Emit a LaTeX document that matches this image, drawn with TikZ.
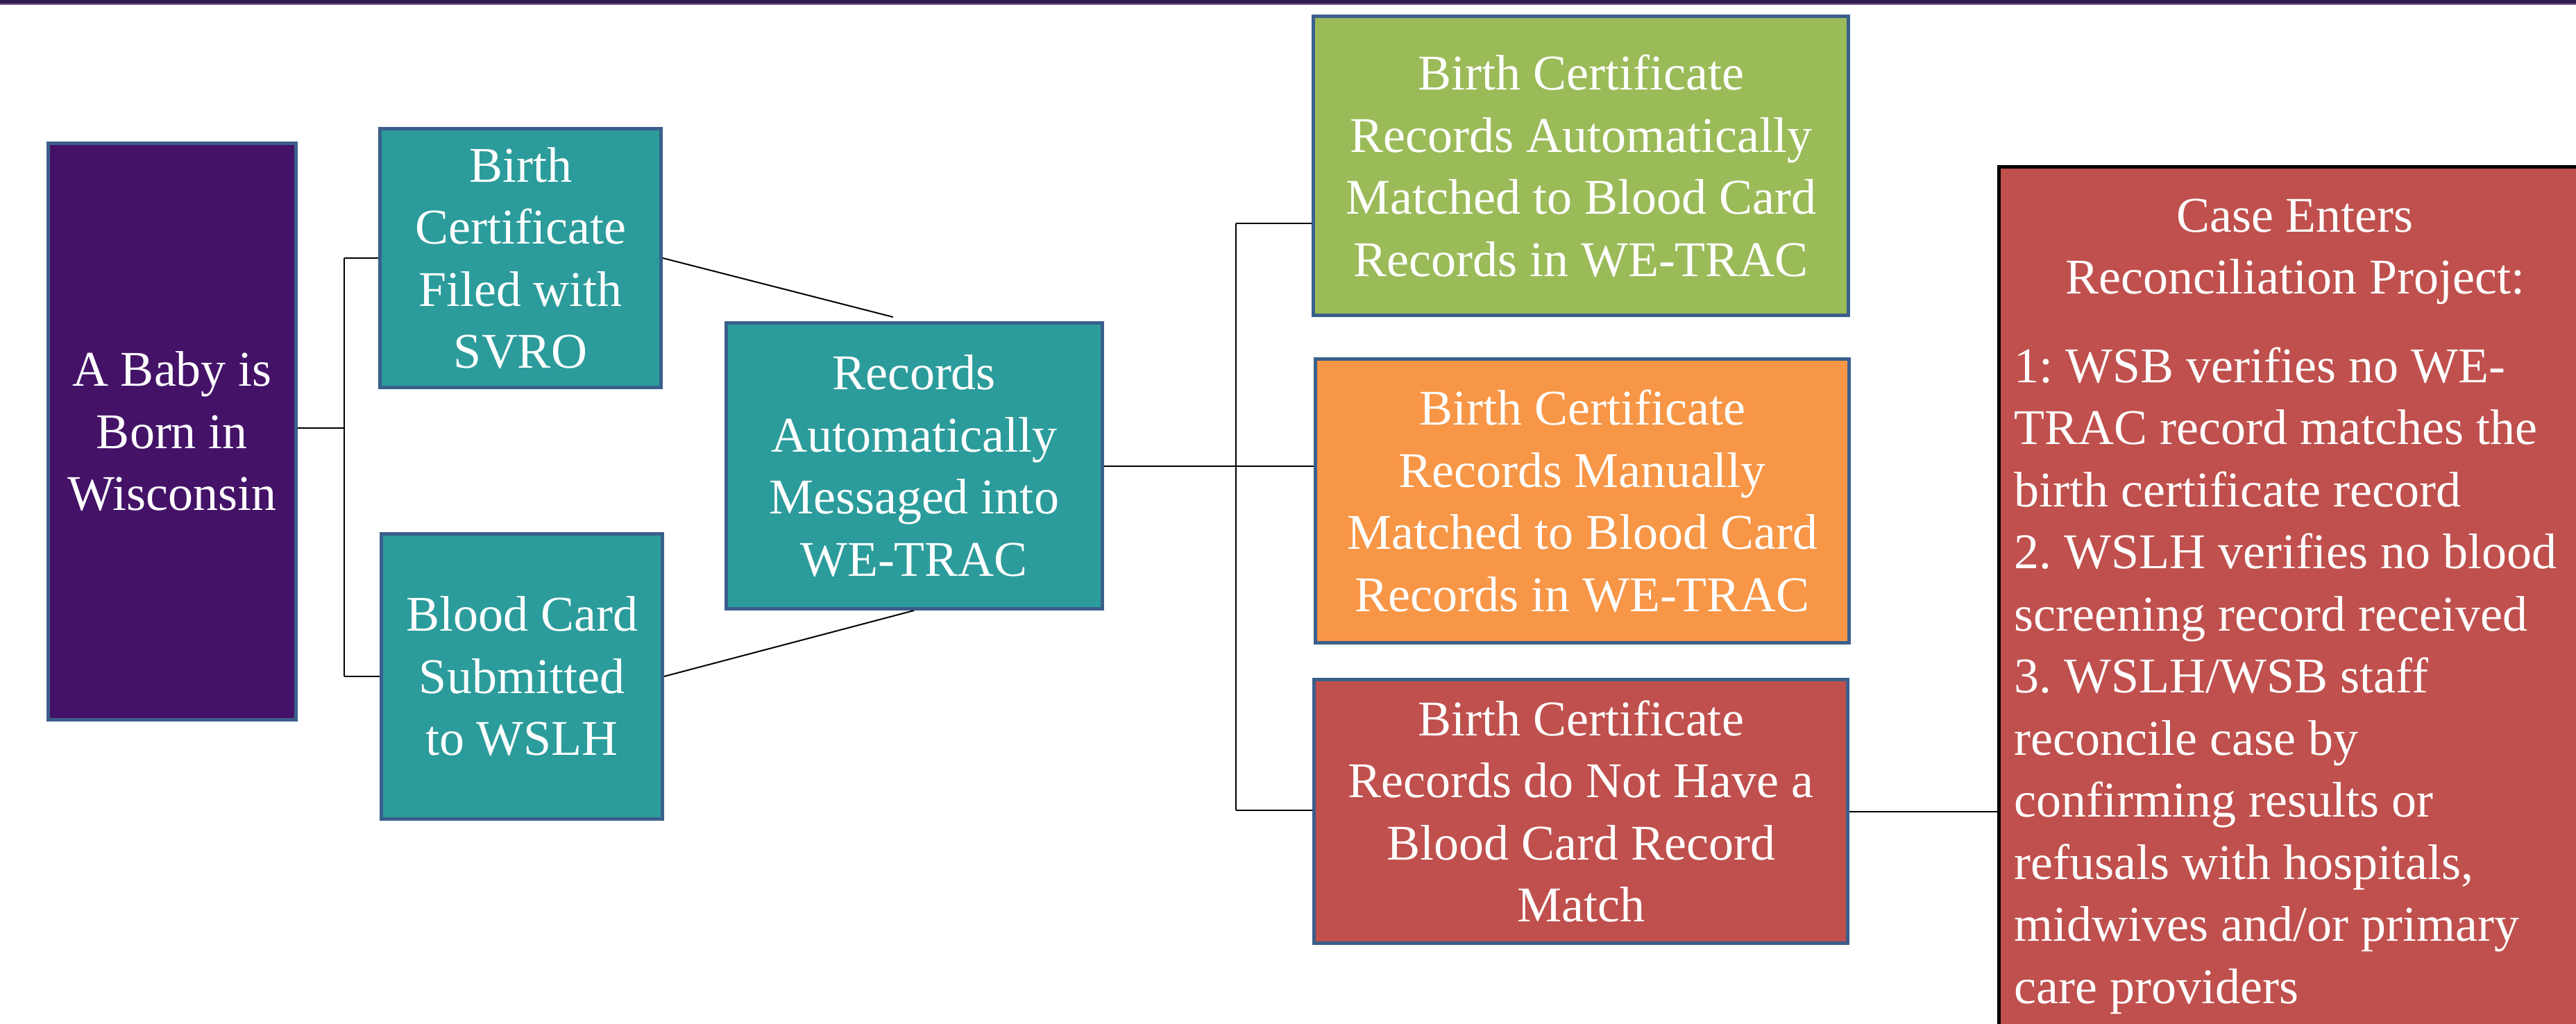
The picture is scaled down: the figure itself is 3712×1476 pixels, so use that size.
\documentclass[tikz,border=0pt]{standalone}
\usepackage{fontspec}
\setmainfont{Liberation Serif}
\usetikzlibrary{calc}
\frenchspacing
\definecolor{bandDark}{RGB}{48,26,74}
\definecolor{bandLight}{RGB}{112,84,142}
\definecolor{babyPurple}{RGB}{68,19,104}
\definecolor{tealBox}{RGB}{43,156,155}
\definecolor{greenBox}{RGB}{155,187,89}
\definecolor{orangeBox}{RGB}{247,150,70}
\definecolor{redBox}{RGB}{192,80,77}
\definecolor{boxBorder}{RGB}{58,95,139}
\tikzset{
  flowbox/.style={draw=boxBorder, line width=2.5pt, rectangle, align=center,
    text=white, inner sep=4pt, font=\fontsize{36}{44.75}\selectfont\frenchspacing},
  conn/.style={draw=black, line width=1pt},
}
\begin{document}
\begin{tikzpicture}[x=0.5pt, y=-0.5pt]
\useasboundingbox (0,0) rectangle (3712,1476);
\clip (0,0) rectangle (3712,1476);
\fill[white] (0,0) rectangle (3712,1476);
% top band
\fill[bandDark] (0,0) rectangle (3712,5);
\fill[bandLight] (0,5) rectangle (3712,7.5);

% boxes
\node[flowbox, fill=babyPurple, minimum width=178.5pt, minimum height=415pt] (baby) at (248,622) {A Baby is\\Born in\\Wisconsin};
\node[flowbox, fill=tealBox, minimum width=202.5pt, minimum height=186.5pt] (svro) at (750,372) {Birth\\Certificate\\Filed with\\SVRO};
\node[flowbox, fill=tealBox, minimum width=202.5pt, minimum height=205.75pt] (blood) at (752,975) {Blood Card\\Submitted\\to WSLH};
\node[flowbox, fill=tealBox, minimum width=271pt, minimum height=206pt] (rec) at (1317,671.5) {Records\\Automatically\\Messaged into\\WE-TRAC};
\node[flowbox, fill=greenBox, minimum width=385.5pt, minimum height=215.5pt] (green) at (2278,239) {Birth Certificate\\Records Automatically\\Matched to Blood Card\\Records in WE-TRAC};
\node[flowbox, fill=orangeBox, minimum width=384.5pt, minimum height=204.75pt] (orange) at (2280,722) {Birth Certificate\\Records Manually\\Matched to Blood Card\\Records in WE-TRAC};
\node[flowbox, fill=redBox, minimum width=384.5pt, minimum height=190pt] (red) at (2278,1169.5) {Birth Certificate\\Records do Not Have a\\Blood Card Record\\Match};
\node[draw=black, line width=2.5pt, fill=redBox, rectangle, minimum width=439.75pt, minimum height=644.75pt, inner sep=0pt] (recon) at (3320.25,885.25) {};
\node[anchor=north, align=center, text=white, inner sep=0pt, font=\fontsize{36}{44.75}\selectfont\frenchspacing] (rtitle) at (3307,286) {Case Enters\\Reconciliation Project:};
\node[anchor=north west, align=left, text=white, inner sep=0pt, font=\fontsize{36}{44.75}\selectfont\frenchspacing] (rlist) at (2902,500) {1: WSB verifies no WE-\\TRAC record matches the\\birth certificate record\\2. WSLH verifies no blood\\screening record received\\3. WSLH/WSB staff\\reconcile case by\\confirming results or\\refusals with hospitals,\\midwives and/or primary\\care providers};

% connectors
\coordinate (busL) at (495.5,617);
\draw[conn] (baby.east |- busL) -- (busL);
\draw[conn] (busL |- svro.west) -- (busL |- blood.west);
\draw[conn] (busL |- svro.west) -- (svro.west);
\draw[conn] (busL |- blood.west) -- (blood.west);
\draw[conn] (svro.east) -- ([xshift=-15pt, yshift=3pt]rec.north);
\draw[conn] (blood.east) -- (rec.south);

\coordinate (gy) at (1781,322);
\coordinate (ry) at (1781,1168);
\draw[conn] (rec.east) -- (rec.east -| orange.west);
\draw[conn] (gy) -- (ry);
\draw[conn] (gy) -- (gy -| green.west);
\draw[conn] (ry) -- (ry -| red.west);
\draw[conn] (red.east) -- (red.east -| recon.west);
\end{tikzpicture}
\end{document}
